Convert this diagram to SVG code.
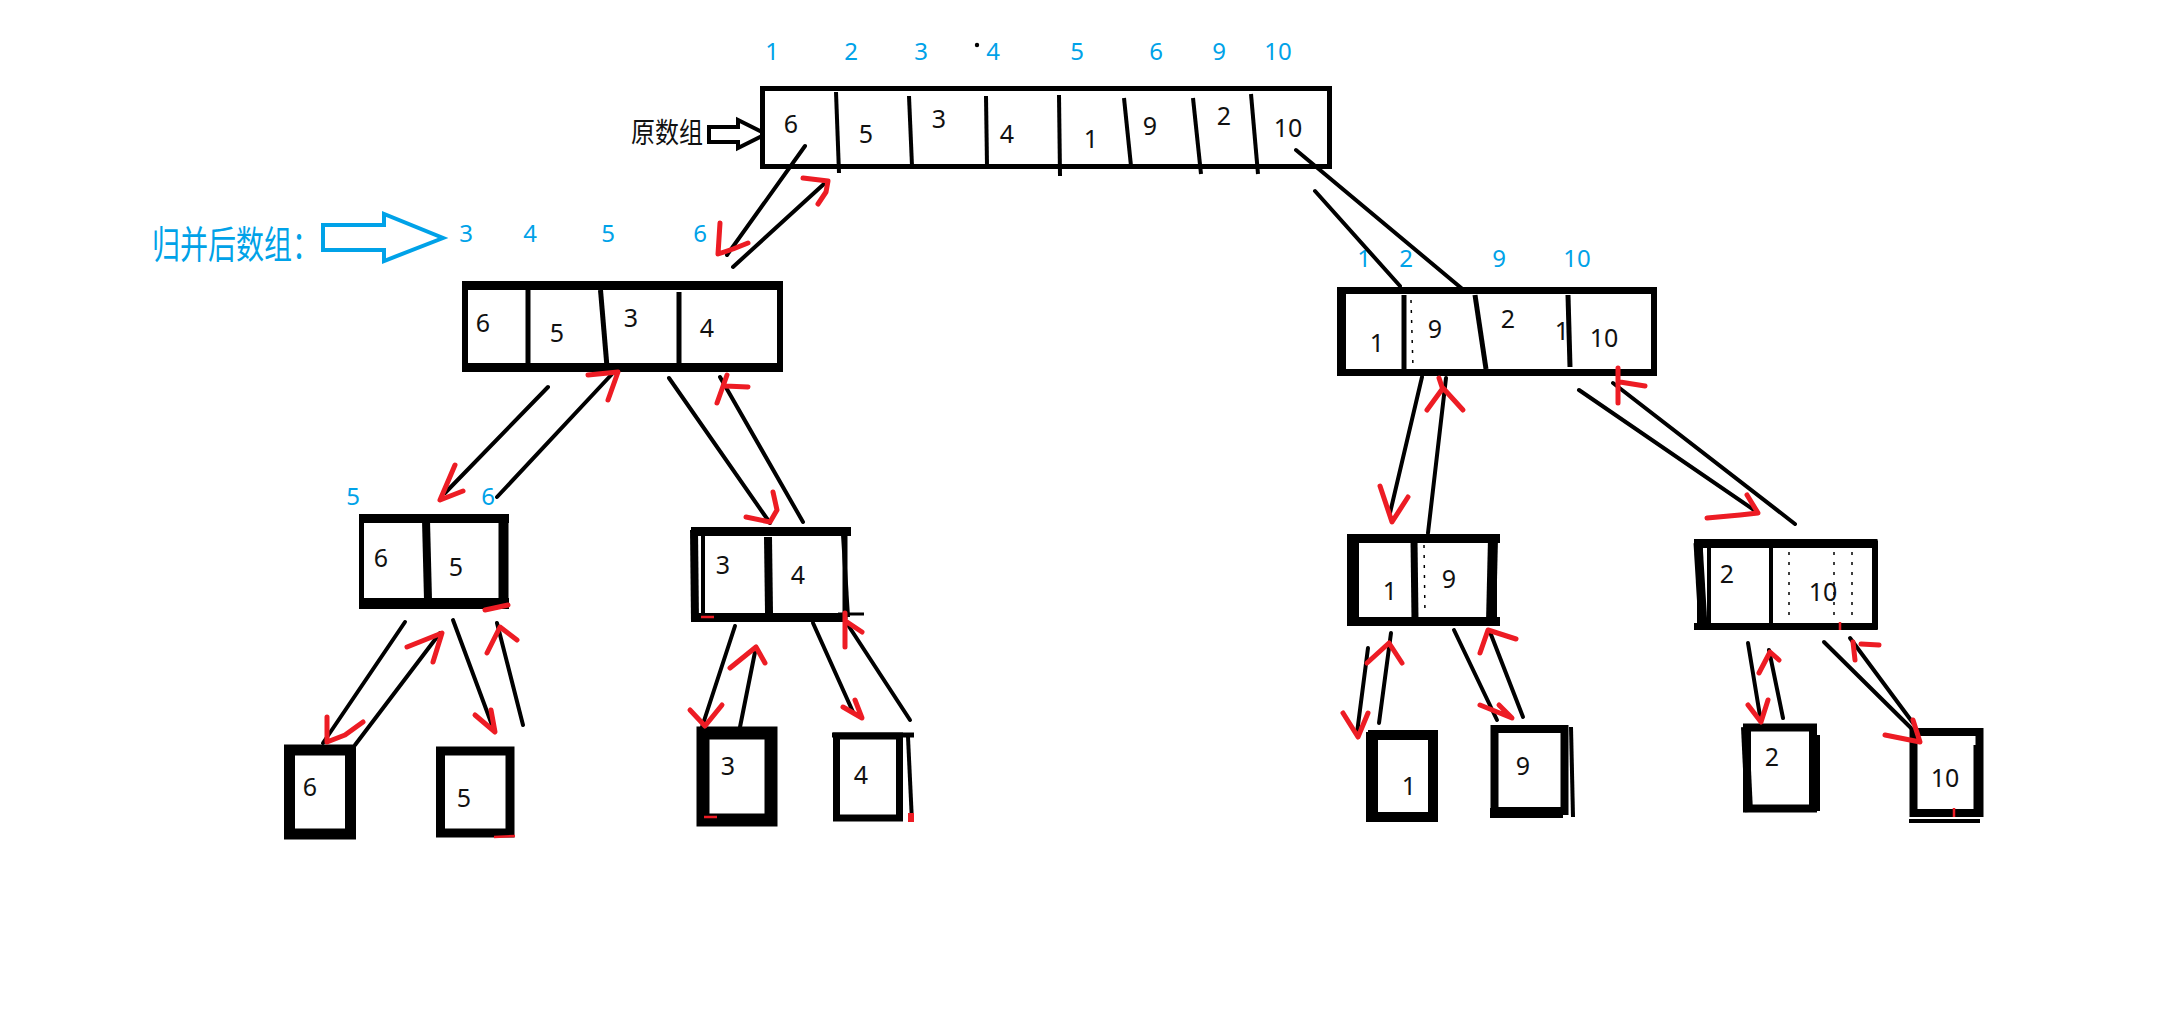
<svg xmlns="http://www.w3.org/2000/svg" width="2171" height="1034" viewBox="0 0 2171 1034">
<style>
.bx{fill:#fff;stroke:#000}
.k{stroke:#000;fill:none;stroke-linecap:butt}
.d{stroke:#000;fill:none;stroke-width:1.5;stroke-dasharray:3 7}
.n{font-family:"Noto Sans","Liberation Sans",sans-serif;font-size:25px;fill:#111;text-anchor:middle}
.b{font-family:"Noto Sans","Liberation Sans",sans-serif;font-size:24px;fill:#00a2e8;text-anchor:middle}
.cj{font-family:"Noto Sans CJK SC","Noto Sans",sans-serif}
#connectors line{stroke:#000;stroke-width:4;stroke-linecap:round}
.ah{fill:none;stroke:#ed1c24;stroke-width:5;stroke-linecap:round;stroke-linejoin:round}
.rm{fill:none;stroke:#ed1c24;stroke-width:2.5}
</style>
<rect width="2171" height="1034" fill="#fff"/>

<g id="label-orig">
<text class="cj" transform="translate(631,143) scale(1,1.18)" font-size="24" fill="#111">原数组</text>
<polygon points="709,127 738,127 738,120 766,134 738,148 738,142 709,142" fill="#fff" stroke="#000" stroke-width="4" stroke-linejoin="miter"/>
</g>

<g id="label-merged">
<text class="cj" transform="translate(152,258) scale(1,1.35)" font-size="28" fill="#00a2e8">归并后数组：</text>
<polygon points="323,225 384,225 384,214 443,238 384,261 384,250 323,250" fill="#fff" stroke="#00a2e8" stroke-width="4"/>
</g>

<g id="order-top">
<text class="b" x="772" y="60">1</text>
<text class="b" x="851" y="60">2</text>
<text class="b" x="921" y="60">3</text>
<text class="b" x="993" y="60">4</text>
<text class="b" x="1077" y="60">5</text>
<text class="b" x="1156" y="60">6</text>
<text class="b" x="1219" y="60">9</text>
<text class="b" x="1278" y="60">10</text>
<circle cx="977" cy="45" r="2.2" fill="#000"/>
</g>

<g id="orig">
<rect class="bx" x="762.5" y="88.5" width="567" height="78" stroke-width="5"/>
<line class="k" x1="836" y1="92" x2="839" y2="173" stroke-width="4"/>
<line class="k" x1="909" y1="96" x2="912" y2="166" stroke-width="4"/>
<line class="k" x1="986" y1="96" x2="987" y2="166" stroke-width="4"/>
<line class="k" x1="1059" y1="95" x2="1060" y2="176" stroke-width="4"/>
<line class="k" x1="1124" y1="98" x2="1131" y2="166" stroke-width="4"/>
<line class="k" x1="1193" y1="98" x2="1201" y2="174" stroke-width="4"/>
<line class="k" x1="1251" y1="94" x2="1258" y2="174" stroke-width="4"/>
<text class="n" x="791" y="133">6</text>
<text class="n" x="866" y="143">5</text>
<text class="n" x="939" y="128">3</text>
<text class="n" x="1007" y="143">4</text>
<text class="n" x="1091" y="148">1</text>
<text class="n" x="1150" y="135">9</text>
<text class="n" x="1224" y="125">2</text>
<text class="n" x="1288" y="137">10</text>
</g>

<g id="order-left">
<text class="b" x="466" y="242">3</text>
<text class="b" x="530" y="242">4</text>
<text class="b" x="608" y="242">5</text>
<text class="b" x="700" y="242">6</text>
</g>

<g id="left-half">
<rect class="bx" x="465" y="286" width="315" height="82" stroke-width="6"/>
<line class="k" x1="462" y1="285.5" x2="783" y2="285.5" stroke-width="9"/>
<line class="k" x1="462" y1="367.5" x2="783" y2="367.5" stroke-width="9"/>
<line class="k" x1="528" y1="290" x2="528" y2="367" stroke-width="5"/>
<line class="k" x1="600.5" y1="290" x2="607" y2="367" stroke-width="5"/>
<line class="k" x1="679" y1="292" x2="679" y2="367" stroke-width="5"/>
<text class="n" x="483" y="332">6</text>
<text class="n" x="557" y="342">5</text>
<text class="n" x="631" y="327">3</text>
<text class="n" x="707" y="337">4</text>
</g>

<g id="order-right">
<text class="b" x="1364" y="267">1</text>
<text class="b" x="1406" y="267">2</text>
<text class="b" x="1499" y="267">9</text>
<text class="b" x="1577" y="267">10</text>
</g>

<g id="right-half">
<rect class="bx" x="1341" y="290.5" width="313" height="82" stroke-width="6"/>
<line class="k" x1="1337" y1="290.5" x2="1657" y2="290.5" stroke-width="7"/>
<line class="k" x1="1337" y1="372.5" x2="1657" y2="372.5" stroke-width="7"/>
<line class="k" x1="1341.5" y1="287" x2="1341.5" y2="376" stroke-width="9"/>
<line class="k" x1="1404" y1="295" x2="1404" y2="369" stroke-width="5"/>
<line class="d" x1="1411" y1="300" x2="1413" y2="368"/>
<line class="k" x1="1475" y1="295" x2="1486" y2="369" stroke-width="5"/>
<line class="k" x1="1568" y1="295" x2="1570" y2="367" stroke-width="5"/>
<text class="n" x="1377" y="352">1</text>
<text class="n" x="1435" y="338">9</text>
<text class="n" x="1508" y="328">2</text>
<text class="n" x="1562" y="340">1</text>
<text class="n" x="1604" y="347">10</text>
</g>

<g id="order-l2">
<text class="b" x="353" y="505">5</text>
<text class="b" x="488" y="505">6</text>
</g>

<g id="n65">
<rect class="bx" x="361.5" y="518.5" width="142" height="85" stroke-width="5"/>
<line class="k" x1="359" y1="518.5" x2="509" y2="518.5" stroke-width="9"/>
<line class="k" x1="359" y1="603.5" x2="509" y2="603.5" stroke-width="11"/>
<line class="k" x1="503.5" y1="515" x2="503.5" y2="609" stroke-width="10"/>
<line class="k" x1="426" y1="520" x2="428" y2="600" stroke-width="8"/>
<text class="n" x="381" y="567">6</text>
<text class="n" x="456" y="576">5</text>
</g>

<g id="n34">
<rect class="bx" x="695" y="531.5" width="150" height="85.5" stroke-width="5"/>
<line class="k" x1="691" y1="531.5" x2="851" y2="531.5" stroke-width="9"/>
<line class="k" x1="691" y1="617.5" x2="846" y2="617.5" stroke-width="9"/>
<line class="k" x1="694" y1="530" x2="695" y2="622" stroke-width="8"/>
<line class="k" x1="703" y1="535" x2="703" y2="618" stroke-width="4"/>
<line class="k" x1="768" y1="537" x2="769" y2="613" stroke-width="8"/>
<line class="k" x1="843" y1="535" x2="848" y2="617" stroke-width="4"/>
<line class="k" x1="838" y1="614" x2="864" y2="614" stroke-width="3"/>
<text class="n" x="723" y="574">3</text>
<text class="n" x="798" y="584">4</text>
</g>

<g id="n19">
<rect class="bx" x="1353" y="538.5" width="140" height="83" stroke-width="8"/>
<line class="k" x1="1347" y1="538.5" x2="1500" y2="538.5" stroke-width="9"/>
<line class="k" x1="1347" y1="621.5" x2="1500" y2="621.5" stroke-width="9"/>
<line class="k" x1="1353" y1="534" x2="1353" y2="626" stroke-width="12"/>
<line class="k" x1="1414" y1="540" x2="1415" y2="620" stroke-width="7"/>
<line class="d" x1="1424" y1="545" x2="1425" y2="615"/>
<line class="k" x1="1493" y1="538" x2="1491" y2="622" stroke-width="10"/>
<text class="n" x="1390" y="600">1</text>
<text class="n" x="1449" y="588">9</text>
</g>

<g id="n210">
<rect class="bx" x="1700" y="543.5" width="175" height="83" stroke-width="6"/>
<line class="k" x1="1694" y1="543.5" x2="1877" y2="543.5" stroke-width="9"/>
<line class="k" x1="1694" y1="626.5" x2="1877" y2="626.5" stroke-width="7"/>
<line class="k" x1="1698" y1="543" x2="1703" y2="626" stroke-width="9"/>
<line class="k" x1="1709" y1="548" x2="1709" y2="623" stroke-width="4"/>
<line class="k" x1="1771" y1="548" x2="1771" y2="623" stroke-width="4"/>
<line class="d" x1="1789" y1="552" x2="1789" y2="620"/>
<line class="d" x1="1834" y1="552" x2="1834" y2="620"/>
<line class="d" x1="1852" y1="552" x2="1852" y2="620"/>
<line class="k" x1="1875" y1="539" x2="1875" y2="630" stroke-width="5"/>
<text class="n" x="1727" y="583">2</text>
<text class="n" x="1823" y="601">10</text>
</g>

<g id="n6">
<rect class="bx" x="289.5" y="750" width="61" height="84" stroke-width="11"/>
<text class="n" x="310" y="796">6</text>
</g>
<g id="n5">
<rect class="bx" x="440.5" y="751" width="69.5" height="82" stroke-width="9"/>
<text class="n" x="464" y="807">5</text>
</g>
<g id="n3">
<rect class="bx" x="703" y="733" width="68" height="87" stroke-width="13"/>
<text class="n" x="728" y="775">3</text>
</g>
<g id="n4">
<rect class="bx" x="836.5" y="736" width="63" height="82" stroke-width="7"/>
<line class="k" x1="832" y1="735" x2="914" y2="735" stroke-width="5"/>
<line class="k" x1="908" y1="737" x2="912" y2="822" stroke-width="4"/>
<text class="n" x="861" y="784">4</text>
</g>
<g id="n1">
<rect class="bx" x="1373" y="735" width="60" height="82" stroke-width="10"/>
<line class="k" x1="1370" y1="732" x2="1370" y2="822" stroke-width="8"/>
<text class="n" x="1409" y="795">1</text>
</g>
<g id="n9">
<rect class="bx" x="1494.5" y="729" width="70" height="82" stroke-width="8"/>
<line class="k" x1="1571" y1="727" x2="1573" y2="817" stroke-width="4"/>
<line class="k" x1="1490" y1="813" x2="1563" y2="813" stroke-width="10"/>
<text class="n" x="1523" y="775">9</text>
</g>
<g id="n2">
<rect class="bx" x="1747" y="727.5" width="66" height="81" stroke-width="8"/>
<line class="k" x1="1745" y1="727" x2="1749" y2="812" stroke-width="8"/>
<line class="k" x1="1818" y1="735" x2="1818" y2="811" stroke-width="4"/>
<text class="n" x="1772" y="766">2</text>
</g>
<g id="n10">
<rect class="bx" x="1913.5" y="732" width="66" height="81" stroke-width="8"/>
<line class="k" x1="1909" y1="821" x2="1980" y2="821" stroke-width="4"/>
<line class="k" x1="1975" y1="745" x2="1975" y2="810" stroke-width="3"/>
<text class="n" x="1945" y="787" font-size="21">10</text>
</g>

<g id="connectors">
<line x1="805" y1="146" x2="727" y2="255"/>
<line x1="733" y1="267" x2="825" y2="183"/>
<line x1="1315" y1="191" x2="1400" y2="286"/>
<line x1="1296" y1="150" x2="1466" y2="292"/>
<line x1="548" y1="387" x2="445" y2="493"/>
<line x1="497" y1="497" x2="613" y2="373"/>
<line x1="669" y1="378" x2="770" y2="523"/>
<line x1="803" y1="522" x2="720" y2="377"/>
<line x1="1422" y1="377" x2="1390" y2="513"/>
<line x1="1428" y1="533" x2="1446" y2="378"/>
<line x1="1579" y1="390" x2="1757" y2="512"/>
<line x1="1795" y1="524" x2="1613" y2="383"/>
<line x1="405" y1="622" x2="323" y2="743"/>
<line x1="355" y1="745" x2="440" y2="633"/>
<line x1="453" y1="620" x2="492" y2="725"/>
<line x1="523" y1="725" x2="497" y2="623"/>
<line x1="735" y1="626" x2="702" y2="727"/>
<line x1="740" y1="727" x2="756" y2="647"/>
<line x1="813" y1="623" x2="853" y2="712"/>
<line x1="910" y1="720" x2="848" y2="625"/>
<line x1="1368" y1="648" x2="1357" y2="733"/>
<line x1="1379" y1="723" x2="1391" y2="633"/>
<line x1="1454" y1="630" x2="1497" y2="720"/>
<line x1="1523" y1="717" x2="1490" y2="632"/>
<line x1="1748" y1="643" x2="1761" y2="722"/>
<line x1="1783" y1="718" x2="1769" y2="650"/>
<line x1="1824" y1="642" x2="1911" y2="728"/>
<line x1="1913" y1="723" x2="1850" y2="638"/>
<g id="arrowheads">
<polyline class="ah" points="720,223 718,254 733,249 748,243"/>
<polyline class="ah" points="803,178 828,181 826,192 818,204"/>
<polyline class="ah" points="455,465 440,500 463,491"/>
<polyline class="ah" points="588,375 618,372 608,400"/>
<polyline class="ah" points="773,492 777,510 770,522 746,517"/>
<path class="ah" d="M727,375 L717,403 M725,386 L748,387"/>
<polyline class="ah" points="1380,486 1392,522 1408,497"/>
<path class="ah" d="M1427,410 L1443,388 L1463,410 M1439,378 L1443,390"/>
<polyline class="ah" points="1707,518 1740,515 1758,513 1747,495"/>
<path class="ah" d="M1618,368 L1618,403 M1620,382 L1645,386"/>
<polyline class="ah" points="327,717 327,742 345,735 363,722"/>
<polyline class="ah" points="407,647 442,633 433,662"/>
<polyline class="ah" points="475,715 495,732 491,710"/>
<polyline class="ah" points="487,653 500,627 517,640"/>
<polyline class="ah" points="690,710 705,726 722,705"/>
<polyline class="ah" points="730,668 756,647 765,663"/>
<polyline class="ah" points="843,707 862,718 855,700"/>
<path class="ah" d="M845,613 L845,647 M847,622 L862,632"/>
<polyline class="ah" points="1343,713 1358,737 1368,713"/>
<polyline class="ah" points="1367,663 1389,643 1402,663"/>
<polyline class="ah" points="1480,705 1512,718 1499,705"/>
<polyline class="ah" points="1480,653 1488,630 1516,639"/>
<polyline class="ah" points="1748,705 1761,722 1768,700"/>
<polyline class="ah" points="1759,673 1770,652 1779,660"/>
<polyline class="ah" points="1885,735 1920,742 1913,720"/>
<path class="ah" d="M1855,660 L1853,642 M1861,644 L1879,645"/>
<path class="ah" d="M485,610 L508,605"/>
<path class="rm" d="M701,617 L714,617 M704,817 L717,817 M494,837 L515,836 M1840,622 L1840,630 M1954,808 L1954,817"/>
<rect x="908" y="813" width="6" height="9" fill="#ed1c24"/>
</g>
</g>
</svg>
